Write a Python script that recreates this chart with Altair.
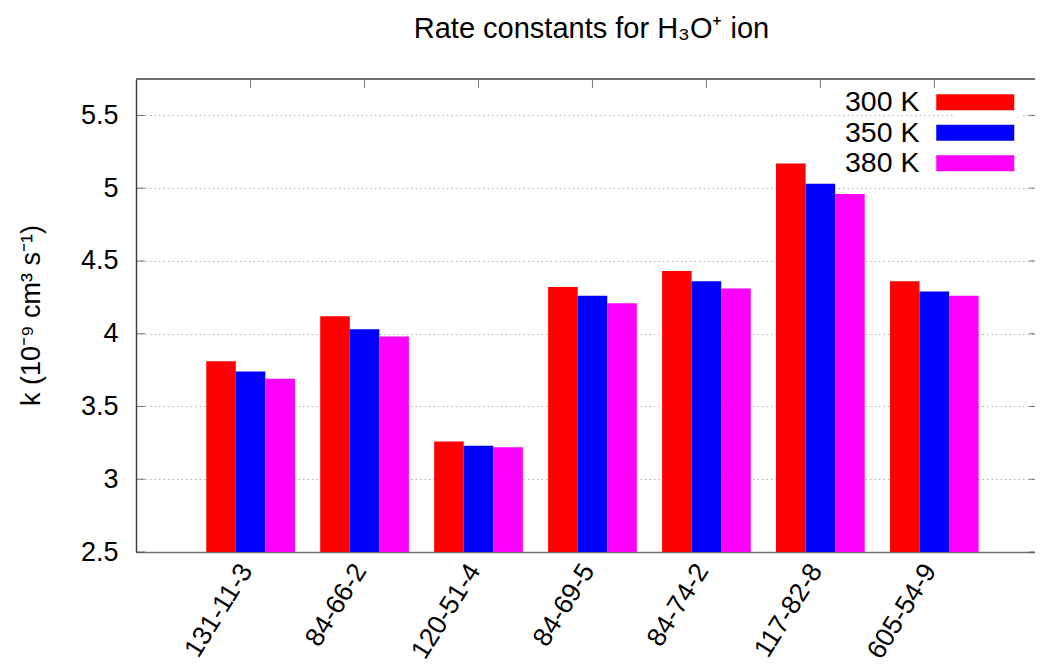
import altair as alt
import pandas as pd

# ---- data ----
cas = ["131-11-3", "84-66-2", "120-51-4", "84-69-5", "84-74-2", "117-82-8", "605-54-9"]
series = ["300 K", "350 K", "380 K"]
k300 = [3.81, 4.12, 3.26, 4.32, 4.43, 5.17, 4.36]
k350 = [3.74, 4.03, 3.23, 4.26, 4.36, 5.03, 4.29]
k380 = [3.69, 3.98, 3.22, 4.21, 4.31, 4.96, 4.26]
colors = ["#ff0000", "#0000ff", "#ff00ff"]
yticks = [2.5, 3.0, 3.5, 4.0, 4.5, 5.0, 5.5]

rows = []
for s, vals in zip(series, [k300, k350, k380]):
    for c, v in zip(cas, vals):
        rows.append({"cas": c, "T": s, "k": v})
df = pd.DataFrame(rows)
tick_df = pd.DataFrame({"k": yticks})
cat_df = pd.DataFrame({"cas": cas})

W, H = 899, 473
FONT = "Liberation Sans"

xscale = alt.Scale(domain=cas, paddingInner=0.2216, paddingOuter=0.5555, align=0.555)
yscale = alt.Scale(domain=[2.5, 5.75], nice=False, zero=False)

legend_path = "M-3.25,-0.667H3.25V0.667H-3.25Z"

bars = alt.Chart(df).mark_bar(stroke=None).encode(
    x=alt.X("cas:N", scale=xscale, sort=cas, title=None,
            axis=alt.Axis(labelAngle=-58, labelAlign="right", labelBaseline="middle",
                          labelFontSize=26.5, labelPadding=14, labelOffset=-4, ticks=False,
                          domain=True, domainColor="#707070", domainWidth=1.5,
                          grid=False, labelColor="black", labelFont=FONT)),
    xOffset=alt.XOffset("T:N", sort=series, scale=alt.Scale(paddingInner=0, paddingOuter=0)),
    y=alt.Y("k:Q", scale=yscale,
            title="k (10⁻⁹ cm³ s⁻¹)",
            axis=alt.Axis(values=yticks, labelExpr="datum.value == 2.5 ? '2.5' : format(datum.value, '~g')",
                          ticks=False, labelFontSize=27, labelPadding=18,
                          labelColor="black", labelFont=FONT,
                          domain=True, domainColor="#404040", domainWidth=1.5,
                          grid=True, gridColor="#b0b0b0", gridDash=[1.5, 3], gridWidth=1,
                          titleFontSize=27, titleFont=FONT, titleFontWeight="normal",
                          titleColor="black", titleX=-105, titleY=236, titleBaseline="middle",
                          titleAngle=270)),
    y2=alt.Y2(datum=2.5),
    color=alt.Color("T:N", sort=series, scale=alt.Scale(domain=series, range=colors),
                    legend=alt.Legend(orient="none", legendX=819, legendY=3, title=None,
                                      symbolType=legend_path, symbolSize=576,
                                      symbolStrokeWidth=0, labelFontSize=28.5,
                                      labelFont=FONT, labelColor="black",
                                      labelAlign="right", labelOffset=alt.ExprRef(expr="-70"),
                                      rowPadding=1.5, fillColor="white", padding=6,
                                      strokeColor="white")),
)

left_ticks = alt.Chart(tick_df).mark_tick(orient="horizontal", size=9, thickness=1, color="#404040").encode(
    y=alt.Y("k:Q", scale=yscale), x=alt.value(4.5))
right_ticks = alt.Chart(tick_df).mark_tick(orient="horizontal", size=9, thickness=1, color="#404040").encode(
    y=alt.Y("k:Q", scale=yscale), x=alt.value(W - 1.5))
top_ticks = alt.Chart(cat_df).mark_tick(orient="vertical", size=9, thickness=1, color="#404040").encode(
    x=alt.X("cas:N", scale=xscale, sort=cas), y=alt.value(4.5))
top_border = alt.Chart(cat_df).mark_rule(color="#707070", strokeWidth=1.5).encode(
    x=alt.value(0), x2=alt.value(W), y=alt.value(0))

chart = alt.layer(bars, left_ticks, right_ticks, top_ticks, top_border).properties(
    width=W, height=H,
    title=alt.TitleParams("Rate constants for H₃O⁺ ion", fontSize=29, font=FONT,
                          fontWeight="normal", color="black", anchor="middle",
                          dx=6, offset=34),
    autosize=alt.AutoSizeParams(type="none"),
    padding={"left": 128, "top": 71, "right": 0, "bottom": 114},
).configure_view(stroke=None).configure(background="white")

chart.save("out.html", embed_options={"renderer": "svg", "actions": False})
